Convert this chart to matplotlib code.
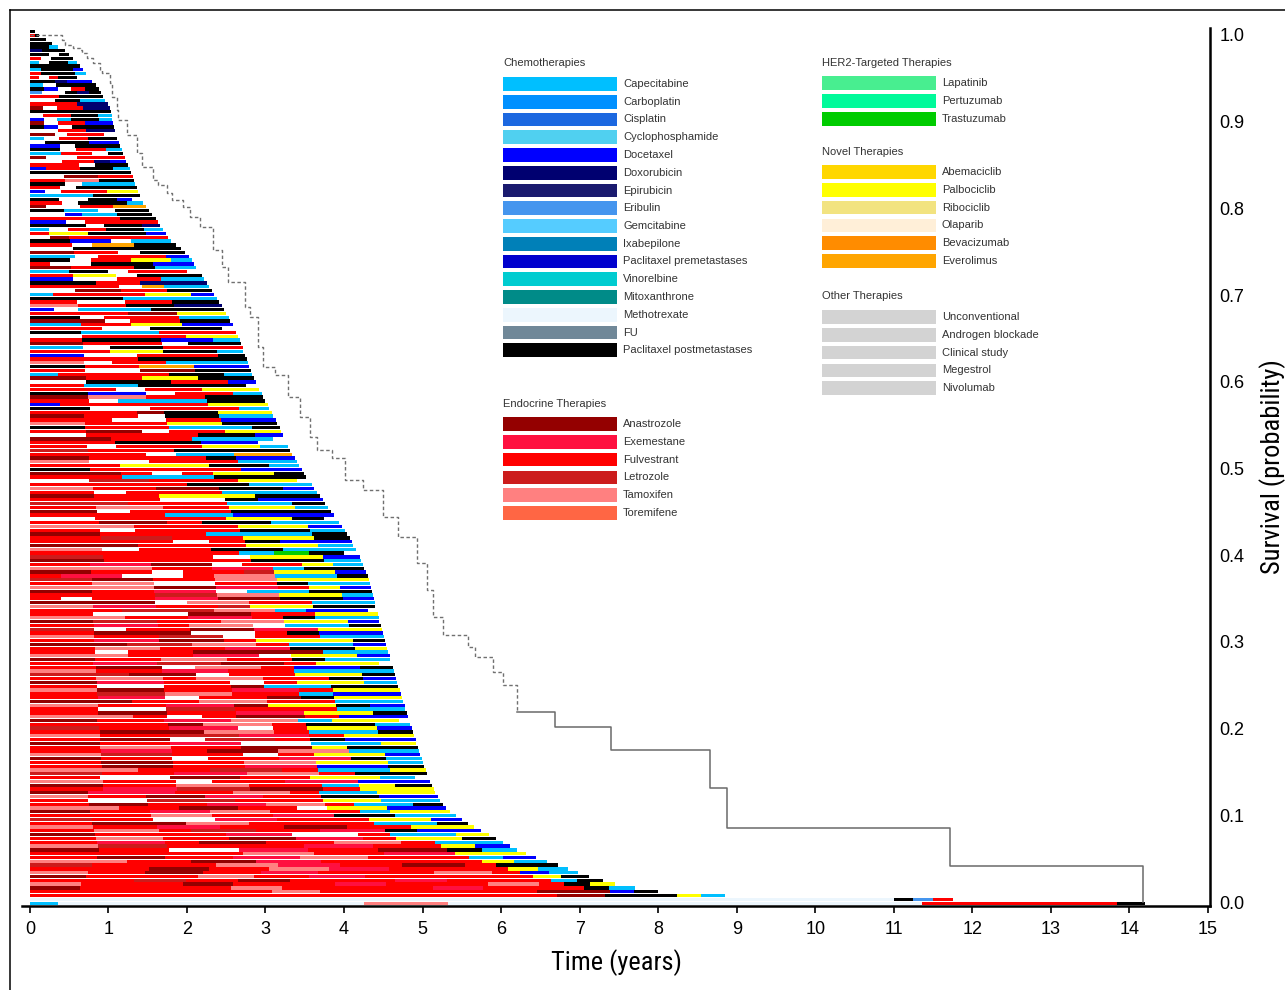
import matplotlib
matplotlib.use('Agg')
import matplotlib.pyplot as plt
from matplotlib.patches import Rectangle
from matplotlib.lines import Line2D
from matplotlib import font_manager as fm

# ---------------- categories ----------------
chemo_names = ["Capecitabine", "Carboplatin", "Cisplatin", "Cyclophosphamide", "Docetaxel",
               "Doxorubicin", "Epirubicin", "Eribulin", "Gemcitabine", "Ixabepilone",
               "Paclitaxel premetastases", "Vinorelbine", "Mitoxanthrone", "Methotrexate",
               "FU", "Paclitaxel postmetastases"]
chemo_codes = list("cbiydxerglpvmhfK")
endo_names = ["Anastrozole", "Exemestane", "Fulvestrant", "Letrozole", "Tamoxifen", "Toremifene"]
endo_codes = list("AEFLTO")
her2_names = ["Lapatinib", "Pertuzumab", "Trastuzumab"]
her2_codes = list("PZQ")
novel_names = ["Abemaciclib", "Palbociclib", "Ribociclib", "Olaparib", "Bevacizumab", "Everolimus"]
novel_codes = list("BYRJVW")
other_names = ["Unconventional", "Androgen blockade", "Clinical study", "Megestrol", "Nivolumab"]
other_codes = list("UNCMX")

palette = {
    'c': '#00BFFF', 'b': '#0090FF', 'i': '#1C68E0', 'y': '#50D0F0', 'd': '#0000FF',
    'x': '#000070', 'e': '#1A1A6E', 'r': '#4595EE', 'g': '#55CCFF', 'l': '#0080B8',
    'p': '#0000CD', 'v': '#00CCD0', 'm': '#008B88', 'h': '#ECF6FD', 'f': '#708898',
    'K': '#000000',
    'A': '#940000', 'E': '#FF1040', 'F': '#FF0000', 'L': '#CC1C1C', 'T': '#FF8080',
    'O': '#FF6644',
    'P': '#48EE90', 'Z': '#00FA9A', 'Q': '#00CC00',
    'B': '#FFD700', 'Y': '#FFFF00', 'R': '#F2E380', 'J': '#FFEFD8', 'V': '#FF8C00',
    'W': '#FFA500',
    'U': '#D3D3D3', 'N': '#D3D3D3', 'C': '#D3D3D3', 'M': '#D3D3D3', 'X': '#D3D3D3',
}

# ---------------- patient rows (top to bottom) ----------------
row_end_years = [
    0.06, 0.12, 0.2, 0.28, 0.36, 0.45, 0.5, 0.55, 0.6, 0.64,
    0.68, 0.72, 0.6, 0.79, 0.84, 0.88, 0.9, 0.93, 0.96, 1.0,
    1.02, 1.03, 1.04, 1.05, 1.06, 1.07, 1.08, 0.95, 1.11, 1.13,
    1.15, 1.17, 1.19, 1.21, 1.23, 1.25, 1.27, 1.29, 1.31, 1.33,
    1.34, 1.36, 1.38, 1.4, 1.3, 1.44, 1.48, 1.52, 1.56, 1.6,
    1.63, 1.66, 1.7, 1.73, 1.76, 1.8, 1.86, 1.92, 1.97, 2.02,
    2.06, 2.09, 2.12, 2.0, 2.19, 2.22, 2.25, 2.28, 2.32, 2.35,
    2.38, 2.41, 2.44, 2.47, 2.5, 2.53, 2.55, 2.58, 2.45, 2.63,
    2.65, 2.67, 2.69, 2.71, 2.72, 2.74, 2.76, 2.78, 2.79, 2.81,
    2.83, 2.85, 2.88, 2.75, 2.92, 2.95, 2.97, 3.0, 3.03, 3.05,
    3.08, 3.1, 3.13, 3.15, 3.18, 3.2, 3.22, 3.1, 3.27, 3.29,
    3.31, 3.34, 3.37, 3.4, 3.43, 3.46, 3.49, 3.52, 3.4, 3.59,
    3.62, 3.66, 3.69, 3.73, 3.76, 3.8, 3.84, 3.87, 3.75, 3.94,
    3.98, 4.01, 4.04, 4.07, 4.1, 4.12, 4.15, 4.0, 4.2, 4.22,
    4.24, 4.26, 4.28, 4.3, 4.32, 4.33, 4.34, 4.35, 4.37, 4.38,
    4.39, 4.4, 4.3, 4.43, 4.44, 4.45, 4.47, 4.48, 4.5, 4.51,
    4.52, 4.53, 4.55, 4.56, 4.58, 4.59, 4.45, 4.62, 4.63, 4.65,
    4.66, 4.68, 4.69, 4.71, 4.72, 4.74, 4.75, 4.77, 4.78, 4.8,
    4.81, 4.7, 4.84, 4.86, 4.88, 4.89, 4.91, 4.92, 4.94, 4.96,
    4.97, 4.99, 5.01, 5.02, 5.04, 5.06, 4.9, 5.1, 5.12, 5.14,
    5.16, 5.19, 5.22, 5.26, 5.3, 5.35, 5.42, 5.5, 5.58, 5.66,
    5.75, 5.84, 5.93, 6.02, 6.11, 6.2, 6.32, 6.45, 6.58, 6.72,
    6.85, 6.98, 7.12, 7.3, 7.45, 7.7, 8.0, 8.85, 11.75, 14.2,
]

row_patterns = [
    # 0-29
    "K", "FK", "KK", "KKK", "KKc", "xKK", "KK.K", "F.KK", "c.KKc", "KKKK",
    "cKKKd", "FKKKc", "F.FKK", "KKxdd", "c.KKK", "Kd.FK", "r..KxK", "FFKKK", "..KKcc", "FFFxx",
    "A.FFxx", "KKKKK", ".FFKKc", "d.cKKc", "A.FFdd", "Kd.KKK", "..FFxx", "AA.FFF", "c.FFKK", ".KKKdd",
    # 30-59
    "dd.KKK", "KK.FFc", "ccFF.K", "A..FFF", "..FFxd", "FFF.KK", "dFFKKc", "KKKKKK", "..AAFF", "FFTTKK",
    "KK.ccc", "FF.KKKK", "d.FFFYY", "ccccKKK", "KK..KKd", "FF.KKKc", "A..FFWW", "KKcc.KK", "..dccKK", "FFFFFKK",
    "dd.FFFF", "KKK.KKx", "c.FFKKc", "FYYKKKd", ".AFFFFF", "KKdd.cc", "FF.WWKK", "..KKKKK", "AAFF.KK", "cc.FFFd",
    # 60-99
    "KK.FFYYc", "F..KKKdd", "AAFFFKcc", "ccKK.FFF", "FFYY.KKK", "dd..FFcc", "KKKFFxxx", "FFFF.Wcc", "..AAFFKK", "cFFFFYYd",
    "KKKKcccc", "FF..FFKK", "TTFFKKxx", "d.cccKKK", "FFFFAAYY", "KK.FFFcc", "AAA.FFKK", "ccFFYYdd", "FFF..KKK", "KKcccFFF",
    "..FFFFYY", "FFKKKddc", "AAFFF.KK", "cc.KKFFF", "FFFYYKKc", "dd..FFFK", "FFFFKKKK", "TT.FFccc", "KKFFWWdd", "FF..AAKK",
    "cFFFFKKc", "AAFFYYKK", "..KKKFFd", "FFccKKKK", "FFF.FFYY", "KKdd.FFc", "AATTFFKK", "FF.cccKK", "dFFFFFYY", "KK..FFFc",
    # 100-139
    "FFFFAKKYY", "AAFF.KKcc", "FFF..FFdd", "TTFFFYYKK", "KKFFFcccK", "FFAA.FFYY", "..FFFFKKd", "AAAFFFccc", "FFFKKKdd.", "FF.FFFYYc",
    "LLFFFKKKK", "FFFF.ccWW", "AAFFFFKdd", "TT..FFFcc", "FFFYYYKKc", "KKFFFFFdd", "AAAF.FYYK", "FFFcccKKK", "..LLFFFYY", "FFFFFKKcc",
    "TTFFAAKKd", "FF.FFFccc", "AAFFYYYKK", "FFFF..Kdd", "LLLFFFccK", "FFTTFFYYc", "AA.FFFKKK", "FFFFccddd", "..FFFFYYK", "FFAAFKKcc",
    "TTTFFFYYd", "FF.FFFKKc", "AAFFFcccK", "FFLLFFYYK", "FFFF.FKdd", "AAAFFFYYc", "TT.FFKKcc", "FFFFFFcQK", "LLFFF.YYd", "AAFFFFKKc",
    # 140-199
    "FFEEAA.FFYc", "TTTTFFEEcKK", "AAFF.FFLYYd", "FEE..FTTccK", "LLAAFFTTYYY", "FFTT..FFKcc", "TTTTAAEEFYd", "AAFFEE.ccKK", "FFFFLLTTYYc", "F.FFEEAAKKd",
    "AAAA.TTFFcc", "TTEEFFLYYKK", "FFFLLLTTcdd", "FF...AAFFYY", "TTTFFEEFKcc", "AALLFFTTYYd", "FFEEFTT.ccK", "LL.FFAAEEYY", "FFAAA..FKdd", "TTFFLL.FFcc",
    "FFEEAAFYYYK", "AAALLTTFccd", "FFTTFFEEKKY", "FF.FFAAAAcc", "TTTFFEE.YYd", "AAFFTTFFKcc", "FFEELLAAFYY", "FFAA.TTFddK", "TTFFEEFFccc", "LLLAA.FFYYK",
    "FFTTFTTFFKd", "AAEEFF.FYYc", "FF..FFAccKK", "TTAAFFEEFYY", "FFLLTTFFcdd", "FFEE.FFAKYY", "AAAFFTTFFcc", "TTFFEEAYYKd", "FF..LLFFFcc", "FFAAFFEEYYK",
    "TTTF.FAAFdd", "AAFFEETTcYY", "FFFFATTFKKc", "LLFFEE.FYYd", "FFAAATTFccK", "TTFFLLEEFYY", "FFAA.LLFKdd", "AAFFEE..ccY", "FFTTFFAAYKK", "FFEEFAATTcc",
    "TTLLFF.FYYd", "AAFF.FFEEKc", "FFAAFFTTYYc", "FFAAFFEEddK", "TTTFFLLFccY", "LLFFEETTFKK", "FF..AAFFYYc", "TTFF.FFEEdd", "AAFFTTFFcYK", "FFEELLAAFYY",
    # 200-227
    "AAEEEFFTTFccYY", "TTFFAAEEFFKKdd", "FF..LLLFFFYYcc", "FFAAFFEETTFccK", "TTTFFAAFF.YYdd",
    "AAFFEETTFFFcYY", "FFFFTTFFEEKKcc", "LLFF..EEFFFYYd", "FFAAATTFFFFccK", "TTFFEEFFAAFFYY",
    "FFTTFLLFFEEKdd", "AAFFFFEE..FccY", "FFTTFFAAEEFYYK", "FFEEFAAFFTTFcc", "TTLLFFFFEEFFYd",
    "AAFF..EEFFAAKc", "FFFFFFTTFFEEYY", "FFAAFFEETTFFFcd", "TTTFFAAEEFFFFFYc", "LLFFFFTTEEFFAAFKK",
    "FFFFAAFFTTEEFFFFYc", "TTFFAAFFEEFFFFTTFdc", "AAFFFFTTFFEEFFFFFFYK", "FFFFLLFFAAFFFFEEFFFFcK",
    "TTFFFFAAFFFFEEFFFFTTFKY", "AAFFFFFFTTFFFFFFEEFFFFKc", "FFFFFFFFFFTTFFFFFFFFFAAAdK",
    "FFFFFFFFFFFFFFFFFFFFFFAAKKKYc",
    # 228-229
    "h" * 44 + "KrF",
    "c" + "h" * 11 + "TTT" + "h" * 17 + "F" * 7 + "K",
]

# ---------------- Kaplan-Meier survival ----------------
km_time = [0.00, 0.41, 0.45, 0.55, 0.64, 0.66, 0.73, 0.80, 0.89, 0.92,
           1.02, 1.04, 1.11, 1.12, 1.24, 1.36, 1.43, 1.57, 1.63, 1.74,
           1.81, 1.95, 2.04, 2.16, 2.33, 2.44, 2.52, 2.74, 2.80, 2.90,
           2.97, 3.12, 3.29, 3.44, 3.57, 3.65, 3.85, 4.01, 4.24, 4.50,
           4.69, 4.93, 5.06, 5.13, 5.26, 5.58, 5.67, 5.90, 6.02, 6.20,
           6.69, 7.40, 8.66, 8.88, 11.72, 14.17]
km_surv = [1.000, 0.994, 0.988, 0.985, 0.983, 0.979, 0.973, 0.968, 0.960, 0.956,
           0.945, 0.928, 0.913, 0.902, 0.885, 0.864, 0.848, 0.833, 0.827, 0.818,
           0.810, 0.802, 0.790, 0.779, 0.752, 0.732, 0.715, 0.686, 0.675, 0.640,
           0.617, 0.608, 0.582, 0.559, 0.536, 0.521, 0.512, 0.487, 0.475, 0.444,
           0.421, 0.391, 0.360, 0.329, 0.308, 0.294, 0.283, 0.265, 0.250, 0.219,
           0.202, 0.175, 0.131, 0.085, 0.0415, 0.000]

x_ticks = list(range(0, 16))
y_ticks = [0.0, 0.1, 0.2, 0.3, 0.4, 0.5, 0.6, 0.7, 0.8, 0.9, 1.0]

# ---------------- fonts ----------------
names = {f.name for f in fm.fontManager.ttflist}
base_font = 'Liberation Sans' if 'Liberation Sans' in names else 'DejaVu Sans'
cond_font = None
for n in ['Liberation Sans Narrow', 'Roboto Condensed', 'Open Sans Condensed']:
    if n in names:
        cond_font = n
        break
if cond_font is None:
    cond_kw = dict(family=['DejaVu Sans'], stretch='condensed')
else:
    cond_kw = dict(family=[cond_font, 'DejaVu Sans'])

plt.rcParams['font.family'] = [base_font, 'DejaVu Sans']

W, H = 1285, 990
fig = plt.figure(figsize=(W / 100, H / 100), dpi=100)
ax = fig.add_axes([22 / W, 1 - 906 / H, (1210 - 22) / W, (906 - 28) / H])

# rows
N = len(row_patterns)
top, bottom = 1.0058, -0.0035
step = (top - bottom) / N
ys, lefts, widths, cols = [], [], [], []
for i, (pat, end) in enumerate(zip(row_patterns, row_end_years)):
    yc = top - (i + 0.5) * step
    unit = end / len(pat)
    j = 0
    while j < len(pat):
        k = j
        while k < len(pat) and pat[k] == pat[j]:
            k += 1
        if pat[j] != '.':
            ys.append(yc)
            lefts.append(j * unit)
            widths.append((k - j) * unit)
            cols.append(palette[pat[j]])
        j = k
ax.barh(ys, widths, left=lefts, height=step * 0.86, color=cols, linewidth=0, zorder=2)

# KM curve: early dense part looks broken/dotted, late part solid
split = km_time.index(6.20)
ax.step(km_time[:split + 1], km_surv[:split + 1], where='post', color='#707070',
        lw=1.0, ls=(0, (2.5, 1.8)), zorder=3)
ax.step(km_time[split:], km_surv[split:], where='post', color='#6a6a6a', lw=1.1, zorder=3)

ax.set_xlim(-0.1, 15.025)
ax.set_ylim(-0.0046, 1.008)
for s in ['left', 'top']:
    ax.spines[s].set_visible(False)
for s in ['bottom', 'right']:
    ax.spines[s].set_linewidth(1.8)
    ax.spines[s].set_color('black')

ax.set_xticks(x_ticks)
ax.set_xticklabels([str(t) for t in x_ticks], fontsize=13)
ax.tick_params(axis='x', direction='out', length=5, width=1.2, pad=6)
ax.yaxis.tick_right()
ax.set_yticks(y_ticks)
ax.set_yticklabels([f"{v:.1f}" for v in y_ticks], fontsize=13)
ax.tick_params(axis='y', length=0, pad=7)
ax.yaxis.set_label_position('right')
ax.set_ylabel("Survival (probability)", fontsize=19, labelpad=10, **cond_kw)
ax.set_xlabel("Time (years)", fontsize=19, labelpad=8, **cond_kw)

# ---------------- legend (figure pixel layout) ----------------
def fx(px):
    return px / W


def fy(py):
    return 1 - py / H


def legend_group(title, names_, codes_, x0, y_title, y_first, dy=17.8):
    fig.text(fx(x0), fy(y_title), title, fontsize=8, color='#333333', va='center', ha='left')
    for k, (nm, cd) in enumerate(zip(names_, codes_)):
        yc = y_first + k * dy
        fig.patches.append(Rectangle((fx(x0), fy(yc + 6.8)), fx(114), 13.6 / H,
                                     transform=fig.transFigure, facecolor=palette[cd],
                                     edgecolor='none'))
        fig.text(fx(x0 + 120), fy(yc), nm, fontsize=8, color='#333333', va='center', ha='left')


legend_group("Chemotherapies", chemo_names, chemo_codes, 503, 63, 84, 17.75)
legend_group("Endocrine Therapies", endo_names, endo_codes, 503, 404, 424, 17.8)
legend_group("HER2-Targeted Therapies", her2_names, her2_codes, 822, 63, 83, 18.0)
legend_group("Novel Therapies", novel_names, novel_codes, 822, 152, 172, 17.8)
legend_group("Other Therapies", other_names, other_codes, 822, 296, 317, 17.8)

# outer frame lines
fig.add_artist(Line2D([fx(9.5), fx(9.5)], [0, fy(9.5)], transform=fig.transFigure, color='black', lw=1.1))
fig.add_artist(Line2D([fx(9.5), 1], [fy(9.5), fy(9.5)], transform=fig.transFigure, color='black', lw=1.1))

fig.savefig('out.png', dpi=100)
